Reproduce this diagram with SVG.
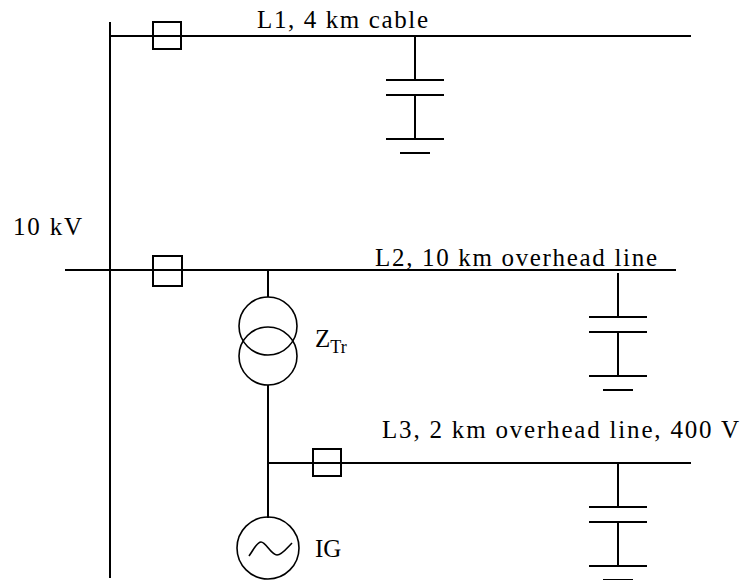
<svg xmlns="http://www.w3.org/2000/svg" width="742" height="580" viewBox="0 0 742 580">
<style>
.w{stroke:#000;stroke-width:2;fill:none}
.c{stroke:#000;stroke-width:1.6;fill:none}
.t{font-family:"Liberation Serif","Times New Roman",serif;font-size:25px;fill:#000}
.s{font-family:"Liberation Serif","Times New Roman",serif;font-size:18px;fill:#000}
</style>
<defs>
<g id="cap">
<line class="w" x1="0" y1="0" x2="0" y2="44"/>
<line class="w" x1="-29" y1="44" x2="29" y2="44"/>
<line class="w" x1="-29" y1="59" x2="29" y2="59"/>
<line class="w" x1="0" y1="59" x2="0" y2="103"/>
<line class="w" x1="-29" y1="103" x2="29" y2="103"/>
<line class="w" x1="-15" y1="117" x2="15" y2="117"/>
</g>
</defs>
<g id="connectors">
<line class="w" x1="110" y1="22" x2="110" y2="578"/>
<line class="w" x1="110" y1="36" x2="691" y2="36"/>
<line class="w" x1="65" y1="270" x2="676" y2="270"/>
<line class="w" x1="268" y1="270" x2="268" y2="297"/>
<line class="w" x1="268" y1="385" x2="268" y2="518"/>
<line class="w" x1="268" y1="463" x2="691" y2="463"/>
</g>
<g id="bus10kV"><text class="t" x="13" y="235" textLength="69" lengthAdjust="spacing">10 kV</text></g>
<g id="L1">
<text class="t" x="257" y="28" textLength="171" lengthAdjust="spacing">L1, 4 km cable</text>
<rect class="w" x="153" y="22" width="28" height="27" fill="#fff"/>
<use href="#cap" x="415" y="36"/>
</g>
<g id="L2">
<text class="t" x="375" y="266" textLength="282" lengthAdjust="spacing">L2, 10 km overhead line</text>
<rect class="w" x="153" y="256" width="29" height="30" fill="#fff"/>
<use href="#cap" x="618" y="273"/>
</g>
<g id="transformer">
<circle class="c" cx="268" cy="326" r="29"/>
<circle class="c" cx="268" cy="356" r="29"/>
<text class="t" x="315" y="347">Z<tspan class="s" dy="6">Tr</tspan></text>
</g>
<g id="L3">
<text class="t" x="382" y="438" textLength="357" lengthAdjust="spacing">L3, 2 km overhead line, 400 V</text>
<rect class="w" x="313" y="449" width="28" height="27" fill="#fff"/>
<use href="#cap" x="618" y="463"/>
</g>
<g id="IG">
<circle class="c" cx="268" cy="548" r="31"/>
<path class="c" d="M249,556 C254,549 257,542 261,542 C266,542 271,555 277,555 C282,555 287,548 292,543"/>
<text class="t" x="315" y="557">IG</text>
</g>
</svg>
